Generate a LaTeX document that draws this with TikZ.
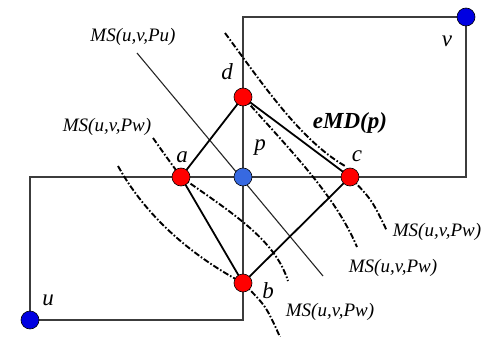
\documentclass[tikz,border=0pt]{standalone}
\usepackage{fontspec}
\setmainfont{Liberation Serif}
\begin{document}
\begin{tikzpicture}[x=1pt,y=-1pt,
  dot/.style={circle,draw=black,line width=0.6pt,minimum size=18pt,inner sep=0pt},
  reddot/.style={dot,fill=red},
  bluedot/.style={dot,fill={rgb,255:red,0;green,0;blue,225}},
  lbluedot/.style={dot,fill={rgb,255:red,55;green,105;blue,225}},
  frame/.style={line width=1.3pt,draw={rgb,255:red,60;green,60;blue,60}},
  rhomb/.style={line width=1.8pt,draw=black},
  thin/.style={line width=1.1pt,draw=black!85},
  dd/.style={line width=1.9pt,draw=black,dash pattern=on 6pt off 2pt on 1.6pt off 2pt},
  ms/.style={font=\fontsize{19}{22}\selectfont\itshape,inner sep=0pt},
  lbl/.style={font=\fontsize{23}{26}\selectfont\itshape,inner sep=0pt}]
\useasboundingbox (0,0) rectangle (493,337);
% positions
\coordinate (pu) at (30,320);
\coordinate (pv) at (466,17);
\coordinate (pp) at (243,177);
\coordinate (pa) at (181,177);
\coordinate (pb) at (243,283);
\coordinate (pc) at (350,177);
\coordinate (pd) at (243,97);
\coordinate (tl) at (30,177);
\coordinate (br) at (243,320);
\coordinate (tt) at (243,17);
\coordinate (rr) at (466,177);
% frames
\draw[frame] (pu) -- (tl) -- (rr) -- (pv) -- (tt) -- (br) -- (pu);
% MS(u,v,Pu) thin line
\coordinate (m1s) at (137,53);
\coordinate (m1e) at (323,276);
\draw[thin] (m1s) -- (m1e);
% rhombus
\draw[rhomb] (pa) -- (pd) -- (pc) -- (pb) -- cycle;
% dash-dot curves
\coordinate (c1s) at (225,33);
\coordinate (c1e) at (345,166);
\draw[dd] (c1s) .. controls (262,83) and (300,140) .. (c1e);
\coordinate (c2e) at (357,247);
\draw[dd] (pd) .. controls (290,150) and (335,195) .. (c2e);
\coordinate (c3e) at (387,231);
\draw[dd] (pc) .. controls (372,200) .. (c3e);
\coordinate (c4e) at (288,281);
\draw[dd] (pa) .. controls (235,215) and (275,240) .. (c4e);
\coordinate (c5s) at (153,138);
\draw[dd] (c5s) .. controls (165,155) .. (pa);
\coordinate (c6s) at (118,166);
\draw[dd] (c6s) .. controls (145,215) and (190,255) .. (pb);
\coordinate (c7e) at (280,337);
\draw[dd] (pb) .. controls (266,306) .. (c7e);
% dots
\node[bluedot] (u) at (pu) {};
\node[bluedot] (v) at (pv) {};
\node[lbluedot] (p) at (pp) {};
\node[reddot] (a) at (pa) {};
\node[reddot] (b) at (pb) {};
\node[reddot] (c) at (pc) {};
\node[reddot] (d) at (pd) {};
% labels
\node[lbl] (lu) at (48,300) {u};
\node[lbl] (lv) at (447,41) {v};
\node[lbl] (la) at (182,157) {a};
\node[lbl] (lb) at (268,291) {b};
\node[lbl] (lc) at (357,156) {c};
\node[lbl] (lp) at (260,148) {p};
\node[lbl] (ld) at (227,72) {d};
\node[ms] (t1) at (133,37) {MS(u,v,Pu)};
\node[ms] (t2) at (107,127) {MS(u,v,Pw)};
\node[ms] (t3) at (437,232) {MS(u,v,Pw)};
\node[ms] (t4) at (393,268) {MS(u,v,Pw)};
\node[ms] (t5) at (330,312) {MS(u,v,Pw)};
\node[font=\fontsize{23}{26}\selectfont\bfseries\itshape,inner sep=0pt] (e) at (350,123) {eMD(p)};
\end{tikzpicture}
\end{document}
